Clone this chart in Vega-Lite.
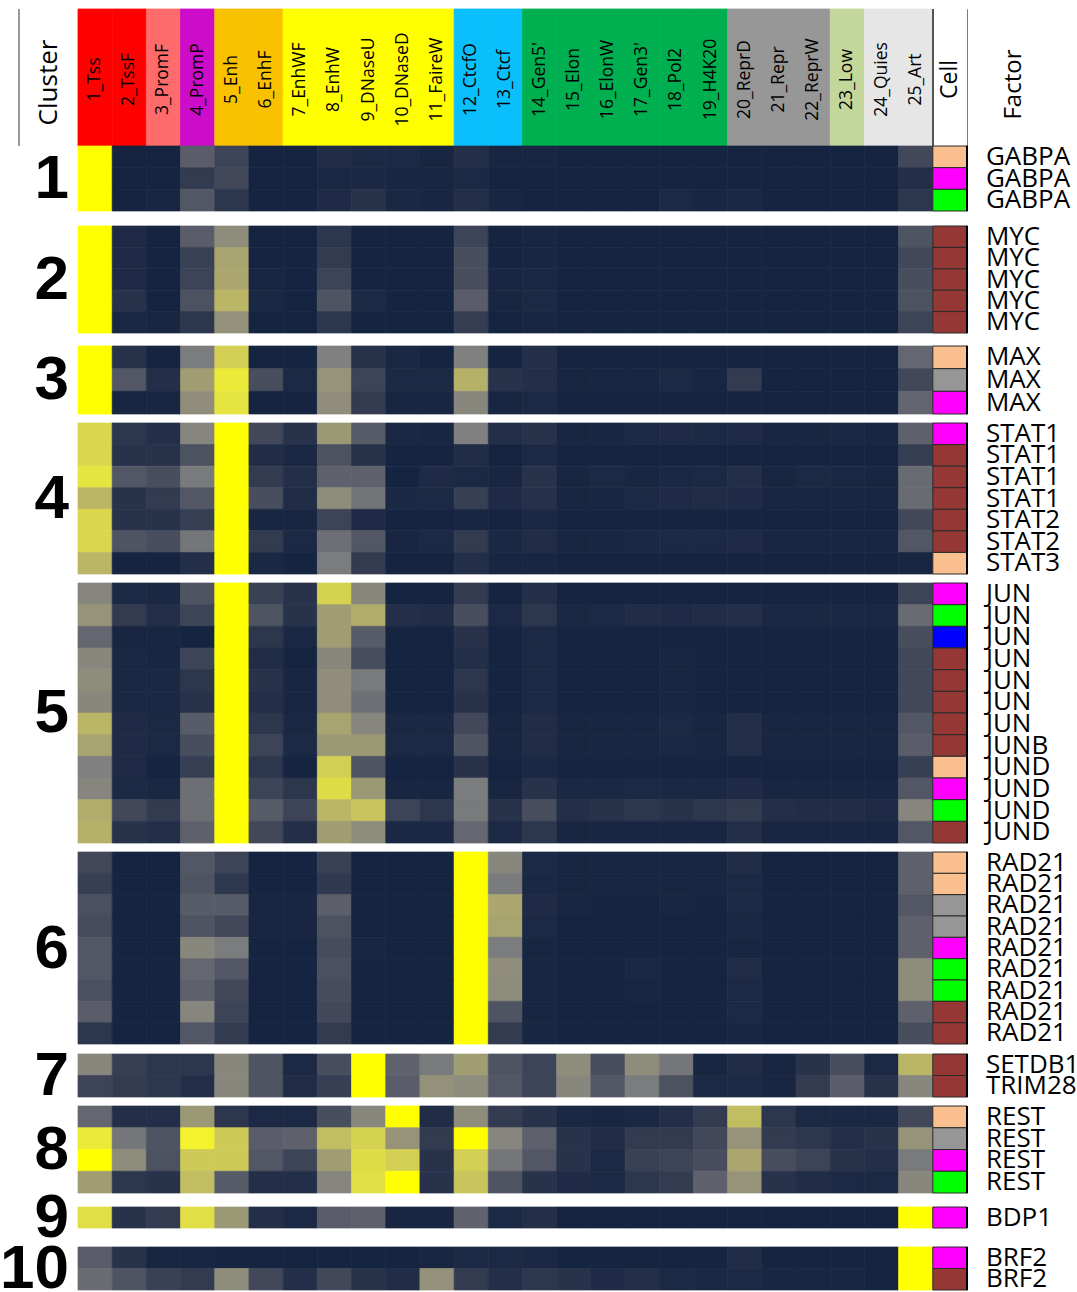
{
"$schema": "https://vega.github.io/schema/vega-lite/v6.json",
"padding": {"left": 0, "top": 8, "right": 0, "bottom": 0},
"autosize": {"type": "pad"},
"bounds": "flush",
"spacing": 0,
"resolve": {"scale": {"fill": "independent", "stroke": "independent"}},
"config": {"view": {"stroke": null}, "font": "Open Sans"},
"datasets": {
"heat": [
{"k":1,"r":1,"cell":"GM12878","factor":"GABPA","s1":1,"s2":0.02,"s3":0.02,"s4":0.33,"s5":0.2,"s6":0.02,"s7":0.02,"s8":0.07,"s9":0.05,"s10":0.05,"s11":0.03,"s12":0.08,"s13":0.03,"s14":0.03,"s15":0.02,"s16":0.02,"s17":0.02,"s18":0.02,"s19":0.02,"s20":0.02,"s21":0.02,"s22":0.02,"s23":0.02,"s24":0.02,"s25":0.22},
{"k":1,"r":2,"cell":"HepG2","factor":"GABPA","s1":1,"s2":0.02,"s3":0.02,"s4":0.15,"s5":0.22,"s6":0.02,"s7":0.02,"s8":0.04,"s9":0.04,"s10":0.03,"s11":0.03,"s12":0.05,"s13":0.02,"s14":0.02,"s15":0.02,"s16":0.02,"s17":0.02,"s18":0.02,"s19":0.02,"s20":0.02,"s21":0.02,"s22":0.02,"s23":0.02,"s24":0.02,"s25":0.08},
{"k":1,"r":3,"cell":"HeLa-S3","factor":"GABPA","s1":1,"s2":0.02,"s3":0.03,"s4":0.3,"s5":0.12,"s6":0.02,"s7":0.02,"s8":0.06,"s9":0.1,"s10":0.04,"s11":0.03,"s12":0.08,"s13":0.03,"s14":0.02,"s15":0.02,"s16":0.02,"s17":0.02,"s18":0.05,"s19":0.03,"s20":0.04,"s21":0.02,"s22":0.02,"s23":0.02,"s24":0.02,"s25":0.12},
{"k":2,"r":1,"cell":"K562","factor":"MYC","s1":1,"s2":0.06,"s3":0.02,"s4":0.33,"s5":0.55,"s6":0.02,"s7":0.02,"s8":0.12,"s9":0.02,"s10":0.02,"s11":0.02,"s12":0.2,"s13":0.02,"s14":0.03,"s15":0.02,"s16":0.02,"s17":0.02,"s18":0.02,"s19":0.02,"s20":0.02,"s21":0.02,"s22":0.02,"s23":0.02,"s24":0.02,"s25":0.28},
{"k":2,"r":2,"cell":"K562","factor":"MYC","s1":1,"s2":0.06,"s3":0.02,"s4":0.18,"s5":0.65,"s6":0.02,"s7":0.02,"s8":0.15,"s9":0.02,"s10":0.02,"s11":0.02,"s12":0.25,"s13":0.02,"s14":0.03,"s15":0.02,"s16":0.02,"s17":0.02,"s18":0.02,"s19":0.02,"s20":0.02,"s21":0.02,"s22":0.02,"s23":0.02,"s24":0.02,"s25":0.22},
{"k":2,"r":3,"cell":"K562","factor":"MYC","s1":1,"s2":0.06,"s3":0.02,"s4":0.2,"s5":0.66,"s6":0.03,"s7":0.02,"s8":0.2,"s9":0.02,"s10":0.02,"s11":0.02,"s12":0.25,"s13":0.03,"s14":0.04,"s15":0.02,"s16":0.02,"s17":0.02,"s18":0.02,"s19":0.02,"s20":0.02,"s21":0.02,"s22":0.02,"s23":0.02,"s24":0.02,"s25":0.25},
{"k":2,"r":4,"cell":"K562","factor":"MYC","s1":1,"s2":0.1,"s3":0.02,"s4":0.27,"s5":0.72,"s6":0.04,"s7":0.02,"s8":0.28,"s9":0.05,"s10":0.02,"s11":0.02,"s12":0.33,"s13":0.03,"s14":0.05,"s15":0.02,"s16":0.02,"s17":0.02,"s18":0.02,"s19":0.02,"s20":0.02,"s21":0.02,"s22":0.02,"s23":0.02,"s24":0.02,"s25":0.27},
{"k":2,"r":5,"cell":"K562","factor":"MYC","s1":1,"s2":0.04,"s3":0.03,"s4":0.12,"s5":0.57,"s6":0.02,"s7":0.02,"s8":0.12,"s9":0.02,"s10":0.02,"s11":0.02,"s12":0.16,"s13":0.02,"s14":0.03,"s15":0.02,"s16":0.02,"s17":0.02,"s18":0.02,"s19":0.02,"s20":0.02,"s21":0.02,"s22":0.02,"s23":0.02,"s24":0.02,"s25":0.2},
{"k":3,"r":1,"cell":"GM12878","factor":"MAX","s1":1,"s2":0.1,"s3":0.02,"s4":0.48,"s5":0.82,"s6":0.02,"s7":0.02,"s8":0.5,"s9":0.1,"s10":0.04,"s11":0.02,"s12":0.5,"s13":0.02,"s14":0.08,"s15":0.02,"s16":0.02,"s17":0.02,"s18":0.02,"s19":0.02,"s20":0.02,"s21":0.02,"s22":0.02,"s23":0.02,"s24":0.02,"s25":0.38},
{"k":3,"r":2,"cell":"H1-hESC","factor":"MAX","s1":1,"s2":0.3,"s3":0.08,"s4":0.62,"s5":0.92,"s6":0.25,"s7":0.05,"s8":0.58,"s9":0.2,"s10":0.05,"s11":0.05,"s12":0.7,"s13":0.1,"s14":0.08,"s15":0.03,"s16":0.03,"s17":0.03,"s18":0.05,"s19":0.03,"s20":0.15,"s21":0.02,"s22":0.02,"s23":0.02,"s24":0.02,"s25":0.22},
{"k":3,"r":3,"cell":"HepG2","factor":"MAX","s1":1,"s2":0.03,"s3":0.03,"s4":0.56,"s5":0.9,"s6":0.02,"s7":0.02,"s8":0.56,"s9":0.15,"s10":0.03,"s11":0.03,"s12":0.53,"s13":0.03,"s14":0.05,"s15":0.02,"s16":0.02,"s17":0.02,"s18":0.02,"s19":0.02,"s20":0.02,"s21":0.02,"s22":0.02,"s23":0.02,"s24":0.02,"s25":0.37},
{"k":4,"r":1,"cell":"HepG2","factor":"STAT1","s1":0.85,"s2":0.12,"s3":0.08,"s4":0.52,"s5":1,"s6":0.22,"s7":0.1,"s8":0.6,"s9":0.32,"s10":0.04,"s11":0.03,"s12":0.5,"s13":0.08,"s14":0.1,"s15":0.03,"s16":0.03,"s17":0.05,"s18":0.06,"s19":0.05,"s20":0.06,"s21":0.03,"s22":0.03,"s23":0.04,"s24":0.03,"s25":0.35},
{"k":4,"r":2,"cell":"K562","factor":"STAT1","s1":0.85,"s2":0.1,"s3":0.1,"s4":0.27,"s5":1,"s6":0.07,"s7":0.04,"s8":0.27,"s9":0.1,"s10":0.02,"s11":0.02,"s12":0.07,"s13":0.02,"s14":0.05,"s15":0.02,"s16":0.02,"s17":0.02,"s18":0.02,"s19":0.02,"s20":0.02,"s21":0.02,"s22":0.02,"s23":0.02,"s24":0.02,"s25":0.16},
{"k":4,"r":3,"cell":"K562","factor":"STAT1","s1":0.9,"s2":0.3,"s3":0.25,"s4":0.47,"s5":1,"s6":0.15,"s7":0.08,"s8":0.35,"s9":0.35,"s10":0.02,"s11":0.06,"s12":0.05,"s13":0.03,"s14":0.1,"s15":0.03,"s16":0.05,"s17":0.03,"s18":0.04,"s19":0.05,"s20":0.08,"s21":0.03,"s22":0.05,"s23":0.04,"s24":0.03,"s25":0.4},
{"k":4,"r":4,"cell":"K562","factor":"STAT1","s1":0.72,"s2":0.1,"s3":0.15,"s4":0.3,"s5":1,"s6":0.25,"s7":0.07,"s8":0.55,"s9":0.44,"s10":0.04,"s11":0.05,"s12":0.17,"s13":0.06,"s14":0.09,"s15":0.03,"s16":0.03,"s17":0.05,"s18":0.06,"s19":0.07,"s20":0.06,"s21":0.03,"s22":0.03,"s23":0.03,"s24":0.03,"s25":0.4},
{"k":4,"r":5,"cell":"K562","factor":"STAT2","s1":0.85,"s2":0.1,"s3":0.1,"s4":0.17,"s5":1,"s6":0.03,"s7":0.03,"s8":0.2,"s9":0.06,"s10":0.02,"s11":0.02,"s12":0.03,"s13":0.02,"s14":0.04,"s15":0.02,"s16":0.02,"s17":0.02,"s18":0.02,"s19":0.02,"s20":0.02,"s21":0.02,"s22":0.02,"s23":0.02,"s24":0.02,"s25":0.22},
{"k":4,"r":6,"cell":"K562","factor":"STAT2","s1":0.85,"s2":0.28,"s3":0.25,"s4":0.45,"s5":1,"s6":0.15,"s7":0.05,"s8":0.42,"s9":0.3,"s10":0.03,"s11":0.05,"s12":0.15,"s13":0.04,"s14":0.07,"s15":0.03,"s16":0.03,"s17":0.04,"s18":0.05,"s19":0.05,"s20":0.06,"s21":0.03,"s22":0.03,"s23":0.03,"s24":0.03,"s25":0.3},
{"k":4,"r":7,"cell":"GM12878","factor":"STAT3","s1":0.72,"s2":0.02,"s3":0.02,"s4":0.08,"s5":1,"s6":0.04,"s7":0.02,"s8":0.48,"s9":0.15,"s10":0.02,"s11":0.02,"s12":0.08,"s13":0.03,"s14":0.03,"s15":0.02,"s16":0.02,"s17":0.02,"s18":0.02,"s19":0.02,"s20":0.02,"s21":0.02,"s22":0.02,"s23":0.02,"s24":0.02,"s25":0.03},
{"k":5,"r":1,"cell":"HepG2","factor":"JUN","s1":0.52,"s2":0.05,"s3":0.04,"s4":0.28,"s5":1,"s6":0.18,"s7":0.1,"s8":0.83,"s9":0.53,"s10":0.02,"s11":0.02,"s12":0.15,"s13":0.02,"s14":0.08,"s15":0.02,"s16":0.02,"s17":0.02,"s18":0.02,"s19":0.02,"s20":0.02,"s21":0.02,"s22":0.02,"s23":0.02,"s24":0.02,"s25":0.2},
{"k":5,"r":2,"cell":"HeLa-S3","factor":"JUN","s1":0.58,"s2":0.15,"s3":0.08,"s4":0.2,"s5":1,"s6":0.28,"s7":0.1,"s8":0.62,"s9":0.68,"s10":0.08,"s11":0.07,"s12":0.25,"s13":0.05,"s14":0.12,"s15":0.04,"s16":0.05,"s17":0.07,"s18":0.06,"s19":0.07,"s20":0.08,"s21":0.04,"s22":0.04,"s23":0.04,"s24":0.04,"s25":0.4},
{"k":5,"r":3,"cell":"HUVEC","factor":"JUN","s1":0.38,"s2":0.03,"s3":0.03,"s4":0.02,"s5":1,"s6":0.12,"s7":0.04,"s8":0.62,"s9":0.32,"s10":0.02,"s11":0.02,"s12":0.1,"s13":0.02,"s14":0.05,"s15":0.02,"s16":0.02,"s17":0.02,"s18":0.02,"s19":0.02,"s20":0.02,"s21":0.02,"s22":0.02,"s23":0.02,"s24":0.02,"s25":0.25},
{"k":5,"r":4,"cell":"K562","factor":"JUN","s1":0.53,"s2":0.04,"s3":0.03,"s4":0.2,"s5":1,"s6":0.07,"s7":0.02,"s8":0.53,"s9":0.25,"s10":0.02,"s11":0.02,"s12":0.08,"s13":0.02,"s14":0.05,"s15":0.02,"s16":0.02,"s17":0.02,"s18":0.03,"s19":0.02,"s20":0.02,"s21":0.02,"s22":0.02,"s23":0.02,"s24":0.02,"s25":0.22},
{"k":5,"r":5,"cell":"K562","factor":"JUN","s1":0.55,"s2":0.04,"s3":0.04,"s4":0.12,"s5":1,"s6":0.1,"s7":0.03,"s8":0.56,"s9":0.47,"s10":0.02,"s11":0.02,"s12":0.12,"s13":0.02,"s14":0.05,"s15":0.02,"s16":0.02,"s17":0.02,"s18":0.03,"s19":0.02,"s20":0.02,"s21":0.02,"s22":0.02,"s23":0.02,"s24":0.02,"s25":0.22},
{"k":5,"r":6,"cell":"K562","factor":"JUN","s1":0.53,"s2":0.04,"s3":0.04,"s4":0.1,"s5":1,"s6":0.08,"s7":0.03,"s8":0.56,"s9":0.42,"s10":0.02,"s11":0.02,"s12":0.1,"s13":0.02,"s14":0.05,"s15":0.02,"s16":0.02,"s17":0.02,"s18":0.03,"s19":0.02,"s20":0.02,"s21":0.02,"s22":0.02,"s23":0.02,"s24":0.02,"s25":0.22},
{"k":5,"r":7,"cell":"K562","factor":"JUN","s1":0.72,"s2":0.06,"s3":0.05,"s4":0.32,"s5":1,"s6":0.12,"s7":0.04,"s8":0.65,"s9":0.52,"s10":0.04,"s11":0.04,"s12":0.22,"s13":0.03,"s14":0.07,"s15":0.03,"s16":0.03,"s17":0.03,"s18":0.05,"s19":0.03,"s20":0.08,"s21":0.03,"s22":0.03,"s23":0.03,"s24":0.03,"s25":0.3},
{"k":5,"r":8,"cell":"K562","factor":"JUNB","s1":0.65,"s2":0.06,"s3":0.05,"s4":0.25,"s5":1,"s6":0.2,"s7":0.05,"s8":0.6,"s9":0.6,"s10":0.05,"s11":0.05,"s12":0.28,"s13":0.03,"s14":0.07,"s15":0.03,"s16":0.03,"s17":0.03,"s18":0.04,"s19":0.03,"s20":0.08,"s21":0.03,"s22":0.03,"s23":0.03,"s24":0.03,"s25":0.33},
{"k":5,"r":9,"cell":"GM12878","factor":"JUND","s1":0.5,"s2":0.06,"s3":0.02,"s4":0.17,"s5":1,"s6":0.12,"s7":0.02,"s8":0.82,"s9":0.28,"s10":0.02,"s11":0.02,"s12":0.1,"s13":0.02,"s14":0.04,"s15":0.02,"s16":0.02,"s17":0.02,"s18":0.02,"s19":0.02,"s20":0.02,"s21":0.02,"s22":0.02,"s23":0.02,"s24":0.02,"s25":0.17},
{"k":5,"r":10,"cell":"HepG2","factor":"JUND","s1":0.52,"s2":0.05,"s3":0.04,"s4":0.42,"s5":1,"s6":0.2,"s7":0.12,"s8":0.87,"s9":0.6,"s10":0.03,"s11":0.03,"s12":0.48,"s13":0.03,"s14":0.1,"s15":0.04,"s16":0.04,"s17":0.05,"s18":0.04,"s19":0.04,"s20":0.06,"s21":0.03,"s22":0.03,"s23":0.03,"s24":0.03,"s25":0.3},
{"k":5,"r":11,"cell":"HeLa-S3","factor":"JUND","s1":0.68,"s2":0.22,"s3":0.15,"s4":0.42,"s5":1,"s6":0.32,"s7":0.2,"s8":0.72,"s9":0.78,"s10":0.2,"s11":0.12,"s12":0.47,"s13":0.1,"s14":0.25,"s15":0.08,"s16":0.1,"s17":0.12,"s18":0.1,"s19":0.12,"s20":0.15,"s21":0.08,"s22":0.07,"s23":0.07,"s24":0.06,"s25":0.52},
{"k":5,"r":12,"cell":"K562","factor":"JUND","s1":0.7,"s2":0.1,"s3":0.08,"s4":0.35,"s5":1,"s6":0.22,"s7":0.08,"s8":0.62,"s9":0.55,"s10":0.04,"s11":0.04,"s12":0.38,"s13":0.05,"s14":0.12,"s15":0.03,"s16":0.03,"s17":0.03,"s18":0.03,"s19":0.03,"s20":0.08,"s21":0.03,"s22":0.03,"s23":0.03,"s24":0.03,"s25":0.3},
{"k":6,"r":1,"cell":"GM12878","factor":"RAD21","s1":0.22,"s2":0.02,"s3":0.02,"s4":0.3,"s5":0.2,"s6":0.02,"s7":0.02,"s8":0.18,"s9":0.02,"s10":0.02,"s11":0.02,"s12":1,"s13":0.53,"s14":0.05,"s15":0.03,"s16":0.03,"s17":0.03,"s18":0.03,"s19":0.03,"s20":0.07,"s21":0.02,"s22":0.02,"s23":0.02,"s24":0.02,"s25":0.35},
{"k":6,"r":2,"cell":"GM12878","factor":"RAD21","s1":0.17,"s2":0.02,"s3":0.02,"s4":0.28,"s5":0.13,"s6":0.02,"s7":0.02,"s8":0.14,"s9":0.02,"s10":0.02,"s11":0.02,"s12":1,"s13":0.47,"s14":0.04,"s15":0.03,"s16":0.03,"s17":0.03,"s18":0.03,"s19":0.03,"s20":0.05,"s21":0.02,"s22":0.02,"s23":0.02,"s24":0.02,"s25":0.35},
{"k":6,"r":3,"cell":"H1-hESC","factor":"RAD21","s1":0.26,"s2":0.02,"s3":0.02,"s4":0.32,"s5":0.32,"s6":0.03,"s7":0.03,"s8":0.34,"s9":0.02,"s10":0.02,"s11":0.02,"s12":1,"s13":0.66,"s14":0.06,"s15":0.03,"s16":0.02,"s17":0.02,"s18":0.03,"s19":0.02,"s20":0.05,"s21":0.02,"s22":0.02,"s23":0.02,"s24":0.02,"s25":0.3},
{"k":6,"r":4,"cell":"H1-hESC","factor":"RAD21","s1":0.24,"s2":0.02,"s3":0.02,"s4":0.28,"s5":0.22,"s6":0.03,"s7":0.03,"s8":0.27,"s9":0.02,"s10":0.02,"s11":0.02,"s12":1,"s13":0.65,"s14":0.05,"s15":0.02,"s16":0.02,"s17":0.02,"s18":0.02,"s19":0.02,"s20":0.04,"s21":0.02,"s22":0.02,"s23":0.02,"s24":0.02,"s25":0.35},
{"k":6,"r":5,"cell":"HepG2","factor":"RAD21","s1":0.3,"s2":0.02,"s3":0.02,"s4":0.53,"s5":0.48,"s6":0.02,"s7":0.02,"s8":0.24,"s9":0.03,"s10":0.02,"s11":0.02,"s12":1,"s13":0.48,"s14":0.03,"s15":0.02,"s16":0.02,"s17":0.02,"s18":0.02,"s19":0.02,"s20":0.03,"s21":0.02,"s22":0.02,"s23":0.02,"s24":0.02,"s25":0.35},
{"k":6,"r":6,"cell":"HeLa-S3","factor":"RAD21","s1":0.3,"s2":0.02,"s3":0.02,"s4":0.38,"s5":0.3,"s6":0.02,"s7":0.02,"s8":0.26,"s9":0.02,"s10":0.02,"s11":0.02,"s12":1,"s13":0.56,"s14":0.03,"s15":0.02,"s16":0.02,"s17":0.04,"s18":0.02,"s19":0.02,"s20":0.07,"s21":0.02,"s22":0.02,"s23":0.02,"s24":0.02,"s25":0.55},
{"k":6,"r":7,"cell":"HeLa-S3","factor":"RAD21","s1":0.26,"s2":0.02,"s3":0.02,"s4":0.35,"s5":0.22,"s6":0.02,"s7":0.02,"s8":0.24,"s9":0.02,"s10":0.02,"s11":0.02,"s12":1,"s13":0.55,"s14":0.03,"s15":0.02,"s16":0.02,"s17":0.03,"s18":0.02,"s19":0.02,"s20":0.05,"s21":0.02,"s22":0.02,"s23":0.02,"s24":0.02,"s25":0.55},
{"k":6,"r":8,"cell":"K562","factor":"RAD21","s1":0.33,"s2":0.02,"s3":0.02,"s4":0.52,"s5":0.2,"s6":0.02,"s7":0.02,"s8":0.22,"s9":0.02,"s10":0.02,"s11":0.02,"s12":1,"s13":0.28,"s14":0.03,"s15":0.02,"s16":0.02,"s17":0.02,"s18":0.02,"s19":0.02,"s20":0.05,"s21":0.02,"s22":0.02,"s23":0.02,"s24":0.02,"s25":0.35},
{"k":6,"r":9,"cell":"K562","factor":"RAD21","s1":0.12,"s2":0.02,"s3":0.02,"s4":0.3,"s5":0.15,"s6":0.02,"s7":0.02,"s8":0.15,"s9":0.02,"s10":0.02,"s11":0.02,"s12":1,"s13":0.15,"s14":0.03,"s15":0.02,"s16":0.02,"s17":0.02,"s18":0.02,"s19":0.02,"s20":0.03,"s21":0.02,"s22":0.02,"s23":0.02,"s24":0.02,"s25":0.25},
{"k":7,"r":1,"cell":"K562","factor":"SETDB1","s1":0.53,"s2":0.17,"s3":0.12,"s4":0.12,"s5":0.53,"s6":0.28,"s7":0.05,"s8":0.25,"s9":1,"s10":0.36,"s11":0.47,"s12":0.62,"s13":0.28,"s14":0.2,"s15":0.55,"s16":0.25,"s17":0.55,"s18":0.45,"s19":0.03,"s20":0.07,"s21":0.03,"s22":0.1,"s23":0.25,"s24":0.05,"s25":0.72},
{"k":7,"r":2,"cell":"K562","factor":"TRIM28","s1":0.2,"s2":0.15,"s3":0.12,"s4":0.08,"s5":0.53,"s6":0.28,"s7":0.07,"s8":0.17,"s9":1,"s10":0.33,"s11":0.57,"s12":0.55,"s13":0.3,"s14":0.2,"s15":0.53,"s16":0.3,"s17":0.48,"s18":0.27,"s19":0.05,"s20":0.05,"s21":0.03,"s22":0.15,"s23":0.33,"s24":0.1,"s25":0.53},
{"k":8,"r":1,"cell":"GM12878","factor":"REST","s1":0.38,"s2":0.08,"s3":0.08,"s4":0.6,"s5":0.12,"s6":0.05,"s7":0.05,"s8":0.25,"s9":0.53,"s10":1,"s11":0.07,"s12":0.55,"s13":0.15,"s14":0.1,"s15":0.04,"s16":0.03,"s17":0.04,"s18":0.08,"s19":0.15,"s20":0.75,"s21":0.12,"s22":0.05,"s23":0.04,"s24":0.04,"s25":0.22},
{"k":8,"r":2,"cell":"H1-hESC","factor":"REST","s1":0.92,"s2":0.45,"s3":0.28,"s4":0.95,"s5":0.8,"s6":0.33,"s7":0.35,"s8":0.75,"s9":0.83,"s10":0.58,"s11":0.15,"s12":1,"s13":0.52,"s14":0.35,"s15":0.1,"s16":0.07,"s17":0.15,"s18":0.15,"s19":0.22,"s20":0.58,"s21":0.15,"s22":0.12,"s23":0.08,"s24":0.1,"s25":0.58},
{"k":8,"r":3,"cell":"HepG2","factor":"REST","s1":1,"s2":0.55,"s3":0.27,"s4":0.8,"s5":0.8,"s6":0.3,"s7":0.2,"s8":0.62,"s9":0.87,"s10":0.82,"s11":0.1,"s12":0.82,"s13":0.45,"s14":0.3,"s15":0.1,"s16":0.05,"s17":0.18,"s18":0.2,"s19":0.25,"s20":0.66,"s21":0.25,"s22":0.2,"s23":0.1,"s24":0.08,"s25":0.47},
{"k":8,"r":4,"cell":"HeLa-S3","factor":"REST","s1":0.62,"s2":0.12,"s3":0.1,"s4":0.75,"s5":0.32,"s6":0.08,"s7":0.08,"s8":0.52,"s9":0.88,"s10":1,"s11":0.1,"s12":0.78,"s13":0.28,"s14":0.1,"s15":0.06,"s16":0.05,"s17":0.12,"s18":0.15,"s19":0.35,"s20":0.58,"s21":0.1,"s22":0.07,"s23":0.05,"s24":0.05,"s25":0.53},
{"k":9,"r":1,"cell":"HepG2","factor":"BDP1","s1":0.88,"s2":0.1,"s3":0.15,"s4":0.88,"s5":0.6,"s6":0.08,"s7":0.05,"s8":0.33,"s9":0.35,"s10":0.03,"s11":0.03,"s12":0.36,"s13":0.05,"s14":0.08,"s15":0.02,"s16":0.02,"s17":0.02,"s18":0.02,"s19":0.02,"s20":0.02,"s21":0.02,"s22":0.02,"s23":0.02,"s24":0.02,"s25":1},
{"k":10,"r":1,"cell":"HepG2","factor":"BRF2","s1":0.33,"s2":0.1,"s3":0.03,"s4":0.03,"s5":0.02,"s6":0.02,"s7":0.02,"s8":0.02,"s9":0.02,"s10":0.02,"s11":0.03,"s12":0.05,"s13":0.05,"s14":0.04,"s15":0.02,"s16":0.02,"s17":0.02,"s18":0.02,"s19":0.02,"s20":0.07,"s21":0.02,"s22":0.02,"s23":0.02,"s24":0.02,"s25":1},
{"k":10,"r":2,"cell":"K562","factor":"BRF2","s1":0.4,"s2":0.28,"s3":0.18,"s4":0.15,"s5":0.55,"s6":0.22,"s7":0.08,"s8":0.22,"s9":0.1,"s10":0.07,"s11":0.57,"s12":0.15,"s13":0.08,"s14":0.12,"s15":0.1,"s16":0.06,"s17":0.08,"s18":0.05,"s19":0.04,"s20":0.05,"s21":0.03,"s22":0.03,"s23":0.03,"s24":0.02,"s25":1}
]
},
"vconcat": [
{
"width": 889, "height": 137,
"view": {"stroke": "#222", "strokeWidth": 1},
"data": {"values": [
{"label":"1_Tss","group":"Tss"},{"label":"2_TssF","group":"Tss"},{"label":"3_PromF","group":"PromF"},{"label":"4_PromP","group":"PromP"},{"label":"5_Enh","group":"Enh"},{"label":"6_EnhF","group":"Enh"},{"label":"7_EnhWF","group":"EnhW"},{"label":"8_EnhW","group":"EnhW"},{"label":"9_DNaseU","group":"EnhW"},{"label":"10_DNaseD","group":"EnhW"},{"label":"11_FaireW","group":"EnhW"},{"label":"12_CtcfO","group":"Ctcf"},{"label":"13_Ctcf","group":"Ctcf"},{"label":"14_Gen5'","group":"Gen"},{"label":"15_Elon","group":"Gen"},{"label":"16_ElonW","group":"Gen"},{"label":"17_Gen3'","group":"Gen"},{"label":"18_Pol2","group":"Gen"},{"label":"19_H4K20","group":"Gen"},{"label":"20_ReprD","group":"Repr"},{"label":"21_Repr","group":"Repr"},{"label":"22_ReprW","group":"Repr"},{"label":"23_Low","group":"Low"},{"label":"24_Quies","group":"Quies"},{"label":"25_Art","group":"Quies"},{"label":"Cell","group":"Cell"}
]},
"layer": [
{"mark": {"type": "rect", "strokeWidth": 0.8},
 "encoding": {
  "x": {"field": "label", "type": "nominal", "sort": null, "scale": {"paddingInner": 0, "paddingOuter": 0},
        "axis": {"orient": "bottom", "title": null, "zindex": 2, "labelAngle": 270, "labelAlign": "center", "labelBaseline": "middle", "labelPadding": -67, "ticks": false, "domain": false, "labelFont": "Open Sans", "labelColor": "#000", "labelOverlap": false, "labelLimit": 0, "labelFontSize": {"condition": {"test": "datum.value == 'Cell'", "value": 23}, "value": 17.5}}},
  "fill": {"field": "group", "type": "nominal", "legend": null,
        "scale": {"domain": ["Tss","PromF","PromP","Enh","EnhW","Ctcf","Gen","Repr","Low","Quies","Cell"],
                  "range": ["#FF0000","#FF6B6B","#CC0CC8","#F9C200","#FFFF00","#0ABFFB","#00B050","#979797","#C4D79B","#E6E6E6","#FFFFFF"]}},
  "stroke": {"field": "group", "type": "nominal", "legend": null,
        "scale": {"domain": ["Tss","PromF","PromP","Enh","EnhW","Ctcf","Gen","Repr","Low","Quies","Cell"],
                  "range": ["#FF0000","#FF6B6B","#CC0CC8","#F9C200","#FFFF00","#0ABFFB","#00B050","#979797","#C4D79B","#E6E6E6","#FFFFFF"]}}
 }},
{"mark": {"type": "rule", "color": "#555", "strokeWidth": 1}, "encoding": {"x": {"datum": "Cell", "bandPosition": 0}}},
{"mark": {"type": "rule", "color": "#999", "strokeWidth": 1}, "encoding": {"x": {"datum": "1_Tss", "bandPosition": 0}, "xOffset": {"value": -59}}},
{"data": {"values": [{"t": "Cluster"}]}, "mark": {"type": "text", "angle": 270, "fontSize": 26, "dy": -29, "dx": -5, "color": "#000"},
 "encoding": {"x": {"datum": "1_Tss", "bandPosition": 0}, "text": {"field": "t"}}},
{"data": {"values": [{"t": "Factor"}]}, "mark": {"type": "text", "angle": 270, "fontSize": 24, "dy": 64, "dx": -7, "color": "#000"},
 "encoding": {"x": {"datum": "Cell"}, "text": {"field": "t"}}}
]
},
{
"bounds": "flush",
"spacing": 9,
"vconcat": [
{"height":71,"width":889,"data":{"name":"heat"},"transform":[{"filter":"datum.k == 1"}],"layer":[
 {"transform":[{"fold":["s1","s2","s3","s4","s5","s6","s7","s8","s9","s10","s11","s12","s13","s14","s15","s16","s17","s18","s19","s20","s21","s22","s23","s24","s25"],"as":["key","v"]}],"mark":{"type":"rect","strokeWidth":0.7},"encoding":{"x":{"field":"key","type":"nominal","scale":{"domain":["s1","s2","s3","s4","s5","s6","s7","s8","s9","s10","s11","s12","s13","s14","s15","s16","s17","s18","s19","s20","s21","s22","s23","s24","s25","Cell"],"paddingInner":0,"paddingOuter":0},"axis":null},"y":{"field":"r","type":"ordinal","scale":{"range":[0,65],"paddingInner":0,"paddingOuter":0},"axis":null},"color":{"field":"v","type":"quantitative","scale":{"domain":[0,0.5,1],"range":["#10213e","#808080","#ffff00"]},"legend":null},"stroke":{"field":"v","type":"quantitative","scale":{"domain":[0,0.5,1],"range":["#10213e","#808080","#ffff00"]},"legend":null}}},
 {"mark":{"type":"rect","stroke":"#2a2a2a","strokeWidth":1},"encoding":{"x":{"datum":"Cell"},"y":{"field":"r","type":"ordinal"},"fill":{"field":"cell","type":"nominal","legend":null,"scale":{"domain":["K562","GM12878","HepG2","HeLa-S3","H1-hESC","HUVEC"],"range":["#953735","#FAC090","#FF00FF","#00FF00","#969696","#0000FF"]}}}},
 {"mark":{"type":"text","align":"left","baseline":"middle","dx":36,"fontSize":26,"color":"#000"},"encoding":{"x":{"datum":"Cell"},"y":{"field":"r","type":"ordinal"},"text":{"field":"factor"}}},
 {"mark":{"type":"tick","orient":"vertical","thickness":2,"size":22,"color":"#000","opacity":1},"encoding":{"x":{"datum":"Cell","bandPosition":1},"y":{"field":"r","type":"ordinal"}}},
 {"data":{"values":[{"n":"1"}]},"mark":{"type":"text","align":"right","baseline":"middle","dx":-9,"dy":-3,"fontSize":62,"fontWeight":"bold","font":"Liberation Sans","color":"#000"},"encoding":{"x":{"datum":"s1","bandPosition":0},"text":{"field":"n"}}}
]},
{"height":111,"width":889,"data":{"name":"heat"},"transform":[{"filter":"datum.k == 2"}],"layer":[
 {"transform":[{"fold":["s1","s2","s3","s4","s5","s6","s7","s8","s9","s10","s11","s12","s13","s14","s15","s16","s17","s18","s19","s20","s21","s22","s23","s24","s25"],"as":["key","v"]}],"mark":{"type":"rect","strokeWidth":0.7},"encoding":{"x":{"field":"key","type":"nominal","scale":{"domain":["s1","s2","s3","s4","s5","s6","s7","s8","s9","s10","s11","s12","s13","s14","s15","s16","s17","s18","s19","s20","s21","s22","s23","s24","s25","Cell"],"paddingInner":0,"paddingOuter":0},"axis":null},"y":{"field":"r","type":"ordinal","scale":{"range":[0,107],"paddingInner":0,"paddingOuter":0},"axis":null},"color":{"field":"v","type":"quantitative","scale":{"domain":[0,0.5,1],"range":["#10213e","#808080","#ffff00"]},"legend":null},"stroke":{"field":"v","type":"quantitative","scale":{"domain":[0,0.5,1],"range":["#10213e","#808080","#ffff00"]},"legend":null}}},
 {"mark":{"type":"rect","stroke":"#2a2a2a","strokeWidth":1},"encoding":{"x":{"datum":"Cell"},"y":{"field":"r","type":"ordinal"},"fill":{"field":"cell","type":"nominal","legend":null,"scale":{"domain":["K562","GM12878","HepG2","HeLa-S3","H1-hESC","HUVEC"],"range":["#953735","#FAC090","#FF00FF","#00FF00","#969696","#0000FF"]}}}},
 {"mark":{"type":"text","align":"left","baseline":"middle","dx":36,"fontSize":26,"color":"#000"},"encoding":{"x":{"datum":"Cell"},"y":{"field":"r","type":"ordinal"},"text":{"field":"factor"}}},
 {"mark":{"type":"tick","orient":"vertical","thickness":2,"size":22,"color":"#000","opacity":1},"encoding":{"x":{"datum":"Cell","bandPosition":1},"y":{"field":"r","type":"ordinal"}}},
 {"data":{"values":[{"n":"2"}]},"mark":{"type":"text","align":"right","baseline":"middle","dx":-9,"dy":-2,"fontSize":62,"fontWeight":"bold","font":"Liberation Sans","color":"#000"},"encoding":{"x":{"datum":"s1","bandPosition":0},"text":{"field":"n"}}}
]},
{"height":68,"width":889,"data":{"name":"heat"},"transform":[{"filter":"datum.k == 3"}],"layer":[
 {"transform":[{"fold":["s1","s2","s3","s4","s5","s6","s7","s8","s9","s10","s11","s12","s13","s14","s15","s16","s17","s18","s19","s20","s21","s22","s23","s24","s25"],"as":["key","v"]}],"mark":{"type":"rect","strokeWidth":0.7},"encoding":{"x":{"field":"key","type":"nominal","scale":{"domain":["s1","s2","s3","s4","s5","s6","s7","s8","s9","s10","s11","s12","s13","s14","s15","s16","s17","s18","s19","s20","s21","s22","s23","s24","s25","Cell"],"paddingInner":0,"paddingOuter":0},"axis":null},"y":{"field":"r","type":"ordinal","scale":{"range":[0,68],"paddingInner":0,"paddingOuter":0},"axis":null},"color":{"field":"v","type":"quantitative","scale":{"domain":[0,0.5,1],"range":["#10213e","#808080","#ffff00"]},"legend":null},"stroke":{"field":"v","type":"quantitative","scale":{"domain":[0,0.5,1],"range":["#10213e","#808080","#ffff00"]},"legend":null}}},
 {"mark":{"type":"rect","stroke":"#2a2a2a","strokeWidth":1},"encoding":{"x":{"datum":"Cell"},"y":{"field":"r","type":"ordinal"},"fill":{"field":"cell","type":"nominal","legend":null,"scale":{"domain":["K562","GM12878","HepG2","HeLa-S3","H1-hESC","HUVEC"],"range":["#953735","#FAC090","#FF00FF","#00FF00","#969696","#0000FF"]}}}},
 {"mark":{"type":"text","align":"left","baseline":"middle","dx":36,"fontSize":26,"color":"#000"},"encoding":{"x":{"datum":"Cell"},"y":{"field":"r","type":"ordinal"},"text":{"field":"factor"}}},
 {"mark":{"type":"tick","orient":"vertical","thickness":2,"size":23,"color":"#000","opacity":1},"encoding":{"x":{"datum":"Cell","bandPosition":1},"y":{"field":"r","type":"ordinal"}}},
 {"data":{"values":[{"n":"3"}]},"mark":{"type":"text","align":"right","baseline":"middle","dx":-9,"fontSize":62,"fontWeight":"bold","font":"Liberation Sans","color":"#000"},"encoding":{"x":{"datum":"s1","bandPosition":0},"text":{"field":"n"}}}
]},
{"height":151,"width":889,"data":{"name":"heat"},"transform":[{"filter":"datum.k == 4"}],"layer":[
 {"transform":[{"fold":["s1","s2","s3","s4","s5","s6","s7","s8","s9","s10","s11","s12","s13","s14","s15","s16","s17","s18","s19","s20","s21","s22","s23","s24","s25"],"as":["key","v"]}],"mark":{"type":"rect","strokeWidth":0.7},"encoding":{"x":{"field":"key","type":"nominal","scale":{"domain":["s1","s2","s3","s4","s5","s6","s7","s8","s9","s10","s11","s12","s13","s14","s15","s16","s17","s18","s19","s20","s21","s22","s23","s24","s25","Cell"],"paddingInner":0,"paddingOuter":0},"axis":null},"y":{"field":"r","type":"ordinal","scale":{"range":[0,151],"paddingInner":0,"paddingOuter":0},"axis":null},"color":{"field":"v","type":"quantitative","scale":{"domain":[0,0.5,1],"range":["#10213e","#808080","#ffff00"]},"legend":null},"stroke":{"field":"v","type":"quantitative","scale":{"domain":[0,0.5,1],"range":["#10213e","#808080","#ffff00"]},"legend":null}}},
 {"mark":{"type":"rect","stroke":"#2a2a2a","strokeWidth":1},"encoding":{"x":{"datum":"Cell"},"y":{"field":"r","type":"ordinal"},"fill":{"field":"cell","type":"nominal","legend":null,"scale":{"domain":["K562","GM12878","HepG2","HeLa-S3","H1-hESC","HUVEC"],"range":["#953735","#FAC090","#FF00FF","#00FF00","#969696","#0000FF"]}}}},
 {"mark":{"type":"text","align":"left","baseline":"middle","dx":36,"fontSize":26,"color":"#000"},"encoding":{"x":{"datum":"Cell"},"y":{"field":"r","type":"ordinal"},"text":{"field":"factor"}}},
 {"mark":{"type":"tick","orient":"vertical","thickness":2,"size":22,"color":"#000","opacity":1},"encoding":{"x":{"datum":"Cell","bandPosition":1},"y":{"field":"r","type":"ordinal"}}},
 {"data":{"values":[{"n":"4"}]},"mark":{"type":"text","align":"right","baseline":"middle","dx":-9,"fontSize":62,"fontWeight":"bold","font":"Liberation Sans","color":"#000"},"encoding":{"x":{"datum":"s1","bandPosition":0},"text":{"field":"n"}}}
]},
{"height":260,"width":889,"data":{"name":"heat"},"transform":[{"filter":"datum.k == 5"}],"layer":[
 {"transform":[{"fold":["s1","s2","s3","s4","s5","s6","s7","s8","s9","s10","s11","s12","s13","s14","s15","s16","s17","s18","s19","s20","s21","s22","s23","s24","s25"],"as":["key","v"]}],"mark":{"type":"rect","strokeWidth":0.7},"encoding":{"x":{"field":"key","type":"nominal","scale":{"domain":["s1","s2","s3","s4","s5","s6","s7","s8","s9","s10","s11","s12","s13","s14","s15","s16","s17","s18","s19","s20","s21","s22","s23","s24","s25","Cell"],"paddingInner":0,"paddingOuter":0},"axis":null},"y":{"field":"r","type":"ordinal","scale":{"range":[0,260],"paddingInner":0,"paddingOuter":0},"axis":null},"color":{"field":"v","type":"quantitative","scale":{"domain":[0,0.5,1],"range":["#10213e","#808080","#ffff00"]},"legend":null},"stroke":{"field":"v","type":"quantitative","scale":{"domain":[0,0.5,1],"range":["#10213e","#808080","#ffff00"]},"legend":null}}},
 {"mark":{"type":"rect","stroke":"#2a2a2a","strokeWidth":1},"encoding":{"x":{"datum":"Cell"},"y":{"field":"r","type":"ordinal"},"fill":{"field":"cell","type":"nominal","legend":null,"scale":{"domain":["K562","GM12878","HepG2","HeLa-S3","H1-hESC","HUVEC"],"range":["#953735","#FAC090","#FF00FF","#00FF00","#969696","#0000FF"]}}}},
 {"mark":{"type":"text","align":"left","baseline":"middle","dx":36,"fontSize":26,"color":"#000"},"encoding":{"x":{"datum":"Cell"},"y":{"field":"r","type":"ordinal"},"text":{"field":"factor"}}},
 {"mark":{"type":"tick","orient":"vertical","thickness":2,"size":22,"color":"#000","opacity":1},"encoding":{"x":{"datum":"Cell","bandPosition":1},"y":{"field":"r","type":"ordinal"}}},
 {"data":{"values":[{"n":"5"}]},"mark":{"type":"text","align":"right","baseline":"middle","dx":-9,"fontSize":62,"fontWeight":"bold","font":"Liberation Sans","color":"#000"},"encoding":{"x":{"datum":"s1","bandPosition":0},"text":{"field":"n"}}}
]},
{"height":193,"width":889,"data":{"name":"heat"},"transform":[{"filter":"datum.k == 6"}],"layer":[
 {"transform":[{"fold":["s1","s2","s3","s4","s5","s6","s7","s8","s9","s10","s11","s12","s13","s14","s15","s16","s17","s18","s19","s20","s21","s22","s23","s24","s25"],"as":["key","v"]}],"mark":{"type":"rect","strokeWidth":0.7},"encoding":{"x":{"field":"key","type":"nominal","scale":{"domain":["s1","s2","s3","s4","s5","s6","s7","s8","s9","s10","s11","s12","s13","s14","s15","s16","s17","s18","s19","s20","s21","s22","s23","s24","s25","Cell"],"paddingInner":0,"paddingOuter":0},"axis":null},"y":{"field":"r","type":"ordinal","scale":{"range":[0,192],"paddingInner":0,"paddingOuter":0},"axis":null},"color":{"field":"v","type":"quantitative","scale":{"domain":[0,0.5,1],"range":["#10213e","#808080","#ffff00"]},"legend":null},"stroke":{"field":"v","type":"quantitative","scale":{"domain":[0,0.5,1],"range":["#10213e","#808080","#ffff00"]},"legend":null}}},
 {"mark":{"type":"rect","stroke":"#2a2a2a","strokeWidth":1},"encoding":{"x":{"datum":"Cell"},"y":{"field":"r","type":"ordinal"},"fill":{"field":"cell","type":"nominal","legend":null,"scale":{"domain":["K562","GM12878","HepG2","HeLa-S3","H1-hESC","HUVEC"],"range":["#953735","#FAC090","#FF00FF","#00FF00","#969696","#0000FF"]}}}},
 {"mark":{"type":"text","align":"left","baseline":"middle","dx":36,"fontSize":26,"color":"#000"},"encoding":{"x":{"datum":"Cell"},"y":{"field":"r","type":"ordinal"},"text":{"field":"factor"}}},
 {"mark":{"type":"tick","orient":"vertical","thickness":2,"size":22,"color":"#000","opacity":1},"encoding":{"x":{"datum":"Cell","bandPosition":1},"y":{"field":"r","type":"ordinal"}}},
 {"data":{"values":[{"n":"6"}]},"mark":{"type":"text","align":"right","baseline":"middle","dx":-9,"fontSize":62,"fontWeight":"bold","font":"Liberation Sans","color":"#000"},"encoding":{"x":{"datum":"s1","bandPosition":0},"text":{"field":"n"}}}
]},
{"height":43,"width":889,"data":{"name":"heat"},"transform":[{"filter":"datum.k == 7"}],"layer":[
 {"transform":[{"fold":["s1","s2","s3","s4","s5","s6","s7","s8","s9","s10","s11","s12","s13","s14","s15","s16","s17","s18","s19","s20","s21","s22","s23","s24","s25"],"as":["key","v"]}],"mark":{"type":"rect","strokeWidth":0.7},"encoding":{"x":{"field":"key","type":"nominal","scale":{"domain":["s1","s2","s3","s4","s5","s6","s7","s8","s9","s10","s11","s12","s13","s14","s15","s16","s17","s18","s19","s20","s21","s22","s23","s24","s25","Cell"],"paddingInner":0,"paddingOuter":0},"axis":null},"y":{"field":"r","type":"ordinal","scale":{"range":[0,43],"paddingInner":0,"paddingOuter":0},"axis":null},"color":{"field":"v","type":"quantitative","scale":{"domain":[0,0.5,1],"range":["#10213e","#808080","#ffff00"]},"legend":null},"stroke":{"field":"v","type":"quantitative","scale":{"domain":[0,0.5,1],"range":["#10213e","#808080","#ffff00"]},"legend":null}}},
 {"mark":{"type":"rect","stroke":"#2a2a2a","strokeWidth":1},"encoding":{"x":{"datum":"Cell"},"y":{"field":"r","type":"ordinal"},"fill":{"field":"cell","type":"nominal","legend":null,"scale":{"domain":["K562","GM12878","HepG2","HeLa-S3","H1-hESC","HUVEC"],"range":["#953735","#FAC090","#FF00FF","#00FF00","#969696","#0000FF"]}}}},
 {"mark":{"type":"text","align":"left","baseline":"middle","dx":36,"fontSize":26,"color":"#000"},"encoding":{"x":{"datum":"Cell"},"y":{"field":"r","type":"ordinal"},"text":{"field":"factor"}}},
 {"mark":{"type":"tick","orient":"vertical","thickness":2,"size":22,"color":"#000","opacity":1},"encoding":{"x":{"datum":"Cell","bandPosition":1},"y":{"field":"r","type":"ordinal"}}},
 {"data":{"values":[{"n":"7"}]},"mark":{"type":"text","align":"right","baseline":"middle","dx":-9,"fontSize":62,"fontWeight":"bold","font":"Liberation Sans","color":"#000"},"encoding":{"x":{"datum":"s1","bandPosition":0},"text":{"field":"n"}}}
]},
{"height":92,"width":889,"data":{"name":"heat"},"transform":[{"filter":"datum.k == 8"}],"layer":[
 {"transform":[{"fold":["s1","s2","s3","s4","s5","s6","s7","s8","s9","s10","s11","s12","s13","s14","s15","s16","s17","s18","s19","s20","s21","s22","s23","s24","s25"],"as":["key","v"]}],"mark":{"type":"rect","strokeWidth":0.7},"encoding":{"x":{"field":"key","type":"nominal","scale":{"domain":["s1","s2","s3","s4","s5","s6","s7","s8","s9","s10","s11","s12","s13","s14","s15","s16","s17","s18","s19","s20","s21","s22","s23","s24","s25","Cell"],"paddingInner":0,"paddingOuter":0},"axis":null},"y":{"field":"r","type":"ordinal","scale":{"range":[0,87],"paddingInner":0,"paddingOuter":0},"axis":null},"color":{"field":"v","type":"quantitative","scale":{"domain":[0,0.5,1],"range":["#10213e","#808080","#ffff00"]},"legend":null},"stroke":{"field":"v","type":"quantitative","scale":{"domain":[0,0.5,1],"range":["#10213e","#808080","#ffff00"]},"legend":null}}},
 {"mark":{"type":"rect","stroke":"#2a2a2a","strokeWidth":1},"encoding":{"x":{"datum":"Cell"},"y":{"field":"r","type":"ordinal"},"fill":{"field":"cell","type":"nominal","legend":null,"scale":{"domain":["K562","GM12878","HepG2","HeLa-S3","H1-hESC","HUVEC"],"range":["#953735","#FAC090","#FF00FF","#00FF00","#969696","#0000FF"]}}}},
 {"mark":{"type":"text","align":"left","baseline":"middle","dx":36,"fontSize":26,"color":"#000"},"encoding":{"x":{"datum":"Cell"},"y":{"field":"r","type":"ordinal"},"text":{"field":"factor"}}},
 {"mark":{"type":"tick","orient":"vertical","thickness":2,"size":22,"color":"#000","opacity":1},"encoding":{"x":{"datum":"Cell","bandPosition":1},"y":{"field":"r","type":"ordinal"}}},
 {"data":{"values":[{"n":"8"}]},"mark":{"type":"text","align":"right","baseline":"middle","dx":-9,"dy":-2.5,"fontSize":62,"fontWeight":"bold","font":"Liberation Sans","color":"#000"},"encoding":{"x":{"datum":"s1","bandPosition":0},"text":{"field":"n"}}}
]},
{"height":31,"width":889,"data":{"name":"heat"},"transform":[{"filter":"datum.k == 9"}],"layer":[
 {"transform":[{"fold":["s1","s2","s3","s4","s5","s6","s7","s8","s9","s10","s11","s12","s13","s14","s15","s16","s17","s18","s19","s20","s21","s22","s23","s24","s25"],"as":["key","v"]}],"mark":{"type":"rect","strokeWidth":0.7},"encoding":{"x":{"field":"key","type":"nominal","scale":{"domain":["s1","s2","s3","s4","s5","s6","s7","s8","s9","s10","s11","s12","s13","s14","s15","s16","s17","s18","s19","s20","s21","s22","s23","s24","s25","Cell"],"paddingInner":0,"paddingOuter":0},"axis":null},"y":{"field":"r","type":"ordinal","scale":{"range":[0,21],"paddingInner":0,"paddingOuter":0},"axis":null},"color":{"field":"v","type":"quantitative","scale":{"domain":[0,0.5,1],"range":["#10213e","#808080","#ffff00"]},"legend":null},"stroke":{"field":"v","type":"quantitative","scale":{"domain":[0,0.5,1],"range":["#10213e","#808080","#ffff00"]},"legend":null}}},
 {"mark":{"type":"rect","stroke":"#2a2a2a","strokeWidth":1},"encoding":{"x":{"datum":"Cell"},"y":{"field":"r","type":"ordinal"},"fill":{"field":"cell","type":"nominal","legend":null,"scale":{"domain":["K562","GM12878","HepG2","HeLa-S3","H1-hESC","HUVEC"],"range":["#953735","#FAC090","#FF00FF","#00FF00","#969696","#0000FF"]}}}},
 {"mark":{"type":"text","align":"left","baseline":"middle","dx":36,"fontSize":26,"color":"#000"},"encoding":{"x":{"datum":"Cell"},"y":{"field":"r","type":"ordinal"},"text":{"field":"factor"}}},
 {"mark":{"type":"tick","orient":"vertical","thickness":2,"size":21,"color":"#000","opacity":1},"encoding":{"x":{"datum":"Cell","bandPosition":1},"y":{"field":"r","type":"ordinal"}}},
 {"data":{"values":[{"n":"9"}]},"mark":{"type":"text","align":"right","baseline":"middle","dx":-9,"dy":-5,"fontSize":62,"fontWeight":"bold","font":"Liberation Sans","color":"#000"},"encoding":{"x":{"datum":"s1","bandPosition":0},"text":{"field":"n"}}}
]},
{"height":43,"width":889,"data":{"name":"heat"},"transform":[{"filter":"datum.k == 10"}],"layer":[
 {"transform":[{"fold":["s1","s2","s3","s4","s5","s6","s7","s8","s9","s10","s11","s12","s13","s14","s15","s16","s17","s18","s19","s20","s21","s22","s23","s24","s25"],"as":["key","v"]}],"mark":{"type":"rect","strokeWidth":0.7},"encoding":{"x":{"field":"key","type":"nominal","scale":{"domain":["s1","s2","s3","s4","s5","s6","s7","s8","s9","s10","s11","s12","s13","s14","s15","s16","s17","s18","s19","s20","s21","s22","s23","s24","s25","Cell"],"paddingInner":0,"paddingOuter":0},"axis":null},"y":{"field":"r","type":"ordinal","scale":{"range":[0,43],"paddingInner":0,"paddingOuter":0},"axis":null},"color":{"field":"v","type":"quantitative","scale":{"domain":[0,0.5,1],"range":["#10213e","#808080","#ffff00"]},"legend":null},"stroke":{"field":"v","type":"quantitative","scale":{"domain":[0,0.5,1],"range":["#10213e","#808080","#ffff00"]},"legend":null}}},
 {"mark":{"type":"rect","stroke":"#2a2a2a","strokeWidth":1},"encoding":{"x":{"datum":"Cell"},"y":{"field":"r","type":"ordinal"},"fill":{"field":"cell","type":"nominal","legend":null,"scale":{"domain":["K562","GM12878","HepG2","HeLa-S3","H1-hESC","HUVEC"],"range":["#953735","#FAC090","#FF00FF","#00FF00","#969696","#0000FF"]}}}},
 {"mark":{"type":"text","align":"left","baseline":"middle","dx":36,"fontSize":26,"color":"#000"},"encoding":{"x":{"datum":"Cell"},"y":{"field":"r","type":"ordinal"},"text":{"field":"factor"}}},
 {"mark":{"type":"tick","orient":"vertical","thickness":2,"size":22,"color":"#000","opacity":1},"encoding":{"x":{"datum":"Cell","bandPosition":1},"y":{"field":"r","type":"ordinal"}}},
 {"data":{"values":[{"n":"10"}]},"mark":{"type":"text","align":"right","baseline":"middle","dx":-9,"fontSize":62,"fontWeight":"bold","font":"Liberation Sans","color":"#000"},"encoding":{"x":{"datum":"s1","bandPosition":0},"text":{"field":"n"}}}
]}
]
}
]
}
